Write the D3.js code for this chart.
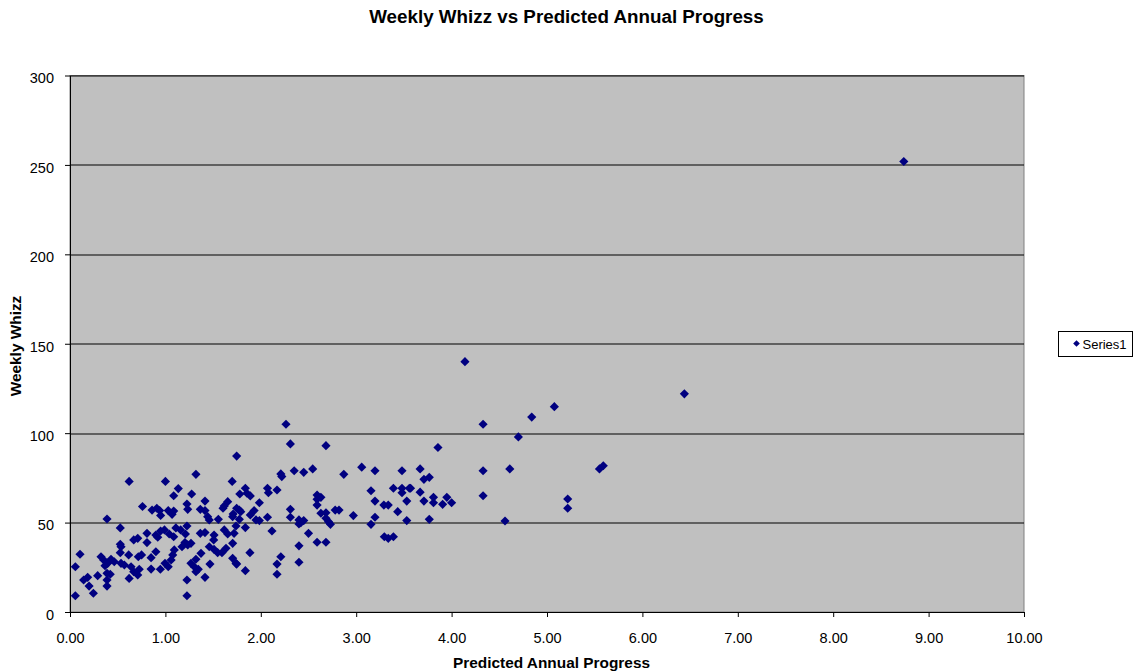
<!DOCTYPE html>
<html>
<head>
<meta charset="utf-8">
<script src="https://cdn.jsdelivr.net/npm/d3@7"></script>
<style>
  body { margin: 0; background: #fff; }
  text { font-family: Arial, "Liberation Sans", sans-serif; }
</style>
</head>
<body>
<div class="chart"></div>
<script>
  // data: predicted annual progress (x) and weekly whizz (y)
  var progress = [
    1.747,1.32,0.62,1.0,1.70,1.135,1.275,1.087,1.415,1.78,0.76,0.86,0.91,0.94,0.95,1.03,1.087,1.07,1.226,1.234,
    1.366,1.415,1.443,1.46,1.617,1.653,1.604,1.71,1.747,1.775,1.555,0.388,0.527,0.95,0.99,0.90,0.92,0.807,0.668,0.71,
    0.527,0.535,0.807,1.04,1.087,1.11,1.16,1.21,1.226,1.205,1.234,1.268,1.174,1.366,1.415,1.51,1.506,1.617,1.653,1.72,
    1.74,1.46,1.51,1.548,1.593,1.635,1.705,1.705,1.74,0.105,0.056,0.056,0.143,0.185,0.2,0.245,0.29,0.325,0.353,0.395,
    0.367,0.43,0.464,0.388,0.422,0.388,0.388,0.527,0.535,0.57,0.615,0.64,0.668,0.62,0.71,0.726,0.716,0.75,0.85,0.90,
    0.85,0.947,0.996,1.03,1.06,1.093,1.077,1.226,1.226,1.268,1.303,1.32,1.345,1.32,1.415,1.467,1.373,1.747,
    2.264,2.31,2.683,2.21,2.22,2.35,2.45,2.544,2.87,3.058,3.197,3.48,1.838,1.855,1.89,2.07,2.08,2.17,1.985,
    1.775,1.79,1.705,1.89,1.93,1.95,1.985,2.07,1.838,1.838,1.886,2.117,2.21,2.17,2.17,2.31,2.31,2.40,2.40,2.45,2.42,
    2.50,2.40,2.40,2.59,2.63,2.59,2.59,2.63,2.683,2.683,2.71,2.73,2.78,2.82,2.59,2.683,2.97,3.155,3.197,3.29,3.336,
    3.197,3.155,3.39,3.48,3.48,3.557,3.53,3.435,3.53,3.295,3.336,3.39,
    4.14,4.33,4.84,5.077,4.70,3.857,3.67,4.33,4.61,5.55,5.59,3.57,3.67,3.71,3.766,3.71,3.81,3.81,3.906,3.95,
    4.0,4.33,3.766,4.56,5.217,5.217,6.44,8.74
  ];
  var whizz = [
    87.2,77,73,73,73,69,66,65,62,66,59,57,58,56.7,54,56.7,56.5,54.6,60.4,57.4,
    57.4,56.7,53.3,51.5,59.3,61.7,58,54.8,58,51.8,51.8,52,47,45.3,45.9,43,41.8,44,40.3,41.2,
    37.9,36.5,38.8,43.6,42.1,47,45.9,43.6,48.1,38.8,37.5,38.4,36.5,44,44.4,43,40.3,45.9,43.6,44,
    48.1,36.5,35,33.2,33.2,35.6,38.4,30,27.2,32.3,25.3,9.1,17.9,19.4,14.5,10.5,20.3,30.9,29.1,27.2,
    25.9,29.5,28.1,21.6,21.1,17.9,14.5,33.2,27.2,26.3,31.9,25.3,22.5,18.8,20.7,23.9,30.9,31.9,30.4,33.7,
    24,23.9,27.2,25.3,29.1,34.7,31.9,17.9,9.1,27.2,25.3,22.5,23.9,29.5,19.4,26.8,32.8,26.8,
    105,94,93,77.2,75.7,79,78.1,80,77,81,79,79,69.2,66.4,64.9,69.2,66.7,68.2,61.1,
    57,56.1,53.3,54.3,56.7,51.5,51.1,53,47.2,23.1,33.2,45.3,30.9,26.8,21.1,57.4,53,51.5,49.2,51.1,50,
    44,37,27.8,65.4,64.1,63,59.8,55.2,55.5,52.4,50.5,49,57,57,39,39,53.9,67.8,62,59.8,59.8,
    53,49,69.2,69.2,66.7,69.2,62,56.1,51.1,42.1,41.2,42.1,
    140,105,109,114.8,97.9,92,80,79,80,80,81.8,69.2,67,74.2,75.3,62,64.1,61.1,60.2,64.1,
    61.1,65,51.8,50.9,63.2,58,122,251.9
  ];
  var xTicks = [0,1,2,3,4,5,6,7,8,9,10];
  var yTicks = [0,50,100,150,200,250,300];
  var seriesName = "Series1";

  var data = progress.map(function(p, i) {
    return { x: p, y: whizz[i] };
  });

  var margin = { top: 75.5, right: 110, bottom: 59, left: 70 },
      fullWidth = 1134, fullHeight = 671,
      width = fullWidth - margin.left - margin.right,
      height = fullHeight - margin.top - margin.bottom;

  var x = d3.scaleLinear().domain([0, 10]).range([0, width]);
  var y = d3.scaleLinear().domain([0, 300]).range([height, 0]);

  var svg = d3.select(".chart").append("svg")
      .attr("width", fullWidth)
      .attr("height", fullHeight);

  svg.append("text")
      .attr("x", 566.5)
      .attr("y", 22.5)
      .attr("text-anchor", "middle")
      .style("font-size", "18.8px")
      .style("font-weight", "bold")
      .text("Weekly Whizz vs Predicted Annual Progress");

  var g = svg.append("g")
      .attr("transform", "translate(" + margin.left + "," + margin.top + ")");

  // plot area
  g.append("rect")
      .attr("width", width)
      .attr("height", height)
      .attr("fill", "#c0c0c0")
      .attr("stroke", "#808080")
      .attr("stroke-width", 1);

  // gridlines
  g.selectAll(".grid")
      .data(yTicks.filter(function(d) { return d > 0; }))
      .enter().append("line")
      .attr("class", "grid")
      .attr("x1", 0)
      .attr("x2", width)
      .attr("y1", function(d) { return Math.round(y(d)) + 0.5; })
      .attr("y2", function(d) { return Math.round(y(d)) + 0.5; })
      .attr("stroke", "#000")
      .attr("stroke-width", 1);

  var xAxis = d3.axisBottom(x)
      .tickValues(xTicks)
      .tickFormat(d3.format(".2f"))
      .tickSizeInner(5)
      .tickSizeOuter(0);

  var yAxis = d3.axisLeft(y)
      .tickValues(yTicks)
      .tickSizeInner(5)
      .tickSizeOuter(0);

  var gx = g.append("g")
      .attr("transform", "translate(0," + height + ")")
      .call(xAxis);
  gx.selectAll("text").attr("y", 31).attr("dy", 0);

  var gy = g.append("g").call(yAxis);
  gy.selectAll("text").attr("x", -16).attr("dy", "0.5em");

  g.selectAll(".domain, .tick line").attr("stroke", "#000");
  g.selectAll(".tick text")
      .style("font-size", "14.5px")
      .attr("fill", "#000")
      .style("font-family", "Arial, 'Liberation Sans', sans-serif");

  var diamond = d3.symbol().type(d3.symbolSquare).size(42);

  g.selectAll(".dot")
      .data(data)
      .enter().append("path")
      .attr("class", "dot")
      .attr("d", diamond)
      .attr("fill", "#000080")
      .attr("transform", function(d) {
        return "translate(" + x(d.x) + "," + y(d.y) + ") rotate(45)";
      });

  svg.append("text")
      .attr("x", 551.5)
      .attr("y", 667.5)
      .attr("text-anchor", "middle")
      .style("font-size", "15.4px")
      .style("font-weight", "bold")
      .text("Predicted Annual Progress");

  svg.append("text")
      .attr("transform", "translate(20.5,346) rotate(-90)")
      .attr("text-anchor", "middle")
      .style("font-size", "15.4px")
      .style("font-weight", "bold")
      .text("Weekly Whizz");

  // legend
  var legend = svg.append("g").attr("transform", "translate(1058.5,331.5)");
  legend.append("rect")
      .attr("width", 74)
      .attr("height", 25)
      .attr("fill", "#fff")
      .attr("stroke", "#000");
  legend.append("path")
      .attr("d", d3.symbol().type(d3.symbolSquare).size(22))
      .attr("fill", "#000080")
      .attr("transform", "translate(18,12) rotate(45)");
  legend.append("text")
      .attr("x", 24)
      .attr("y", 17.5)
      .style("font-size", "13px")
      .text(seriesName);
</script>
</body>
</html>
